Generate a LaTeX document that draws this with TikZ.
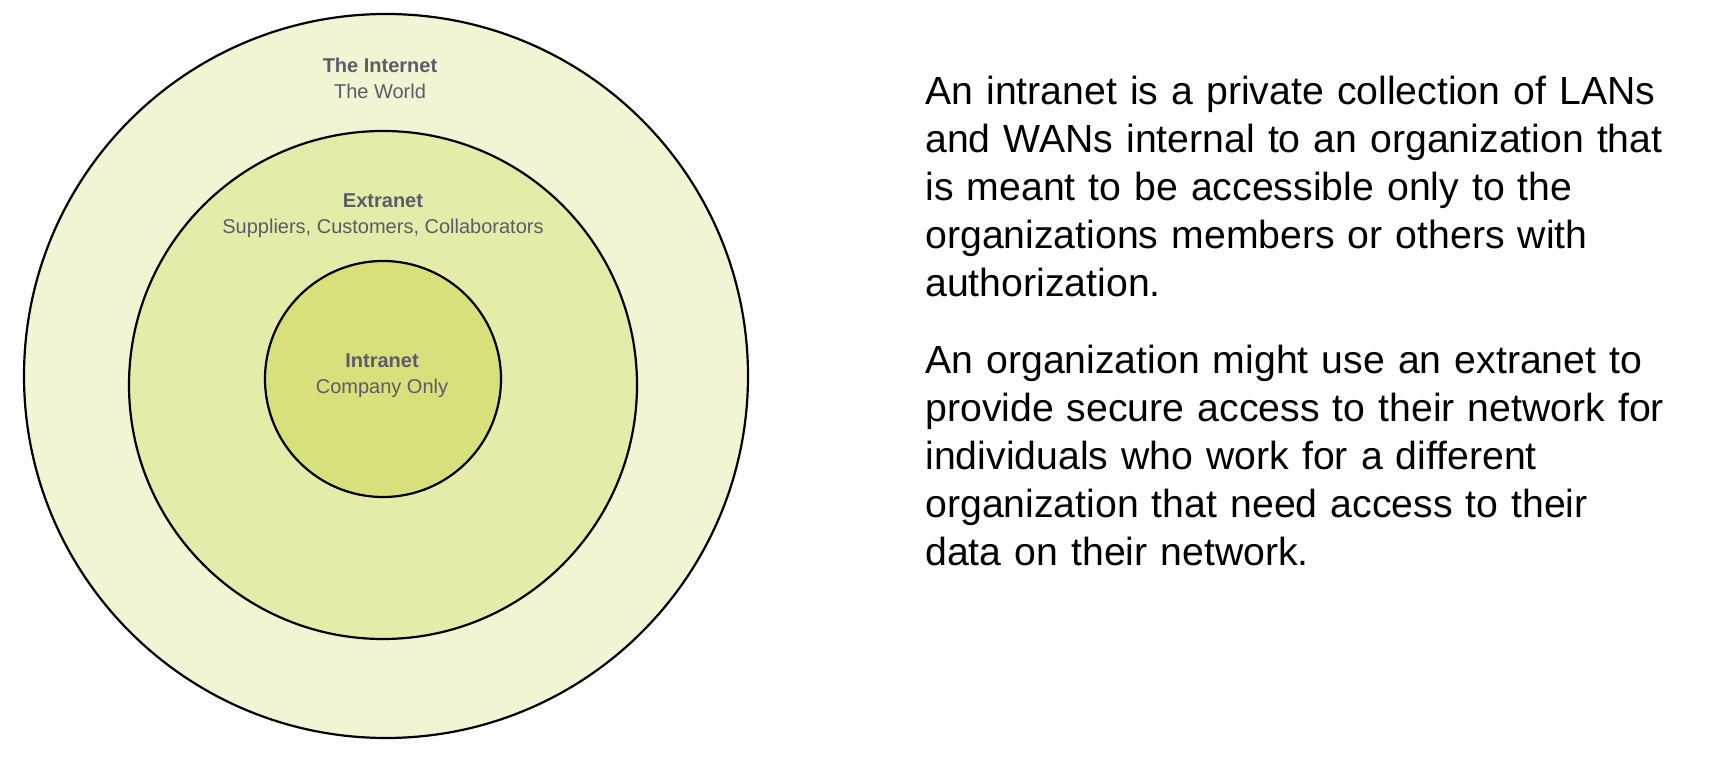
\documentclass[tikz,border=0pt]{standalone}
\usepackage{fontspec}
\setmainfont{Liberation Sans}
\definecolor{worldfill}{HTML}{F2F4D3}
\definecolor{extrafill}{HTML}{E5EBA8}
\definecolor{intrafill}{HTML}{D9E07B}
\definecolor{lblgray}{HTML}{5C5C68}
\begin{document}
\begin{tikzpicture}[x=0.5pt,y=-0.5pt,
    ring/.style={draw=black,line width=1.1pt},
    lbl/.style={anchor=base,align=center,inner sep=0pt,text=lblgray,font=\fontsize{10}{13}\selectfont},
    body/.style={anchor=base west,inner sep=0pt,text width=420pt,align=left,font=\fontsize{19.6}{24}\selectfont}]
  \useasboundingbox (0,0) rectangle (1710,758);
  % nested zones
  \draw[ring,fill=worldfill] (386,376) circle (362);
  \draw[ring,fill=extrafill] (383,385) circle (254);
  \draw[ring,fill=intrafill] (383,379) circle (118);
  \node[lbl] (inet) at (380,99) {\textbf{The Internet}\\The World};
  \node[lbl] (extra) at (383,234) {\textbf{Extranet}\\Suppliers, Customers, Collaborators};
  \node[lbl] (intra) at (382,394) {\textbf{Intranet}\\Company Only};
  % explanation on the right
  \node[body] (para1) at (925,105) {An intranet is a private collection of LANs\\
    and WANs internal to an organization that\\
    is meant to be accessible only to the\\
    organizations members or others with\\
    authorization.};
  \node[body] (para2) at (925,374) {An organization might use an extranet to\\
    provide secure access to their network for\\
    individuals who work for a different\\
    organization that need access to their\\
    data on their network.};
\end{tikzpicture}
\end{document}
